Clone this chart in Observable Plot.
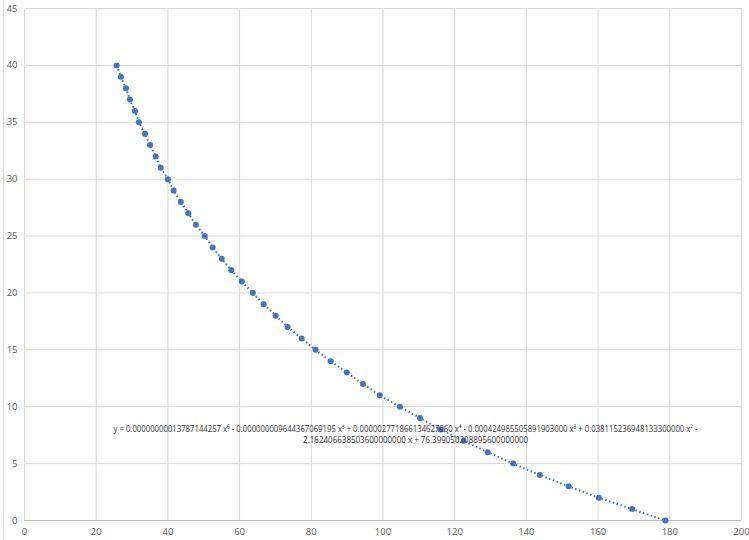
<!DOCTYPE html>
<html>
<head>
<meta charset="utf-8">
<script src="https://cdn.jsdelivr.net/npm/d3@7"></script>
<script src="https://cdn.jsdelivr.net/npm/@observablehq/plot@0.6"></script>
<style>
  html, body { margin: 0; padding: 0; background: #fff; }
  #chart { position: relative; width: 749px; height: 540px; }
</style>
</head>
<body>
<div id="chart"></div>
<script>
const xValues = [25.7, 26.9, 28.3, 29.4, 30.8, 31.9, 33.6, 35.0, 36.6, 38.0,
                 40.0, 41.6, 43.6, 45.7, 47.8, 50.3, 52.5, 55.0, 57.7, 60.6,
                 63.7, 66.7, 70.1, 73.4, 77.3, 81.2, 85.4, 89.9, 94.4, 99.1,
                 104.7, 110.3, 116.0, 122.5, 129.2, 136.3, 143.7, 151.8, 160.2, 169.5, 178.8];
const yValues = [40, 39, 38, 37, 36, 35, 34, 33, 32, 31,
                 30, 29, 28, 27, 26, 25, 24, 23, 22, 21,
                 20, 19, 18, 17, 16, 15, 14, 13, 12, 11,
                 10, 9, 8, 7, 6, 5, 4, 3, 2, 1, 0];
const xTicks = [0, 20, 40, 60, 80, 100, 120, 140, 160, 180, 200];
const yTicks = [0, 5, 10, 15, 20, 25, 30, 35, 40, 45];
const equationLine1 = "y = 0.00000000013787144257 x⁶ - 0.000000009644367069195 x⁵ + 0.000002771866134627060 x⁴ - 0.000424985505891903000 x³ + 0.038115236948133300000 x² -";
const equationLine2 = "2.162406638503600000000 x + 76.399050208895600000000";

const data = xValues.map((x, i) => ({x, y: yValues[i]}));
const blue = "#4472C4";

const chart = Plot.plot({
  width: 749,
  height: 540,
  marginLeft: 24,
  marginRight: 8,
  marginTop: 8,
  marginBottom: 20,
  style: {fontFamily: "Open Sans, Liberation Sans, sans-serif", fontSize: "9.5px", color: "#595959", background: "#fff"},
  x: {domain: [0, 200]},
  y: {domain: [0, 45]},
  marks: [
    Plot.gridX(xTicks, {stroke: "#d9d9d9", strokeOpacity: 1}),
    Plot.gridY(yTicks, {stroke: "#d9d9d9", strokeOpacity: 1}),
    Plot.ruleY([0], {stroke: "#bfbfbf", strokeWidth: 1}),
    Plot.axisX(xTicks, {tickSize: 0, tickPadding: 8, label: null, fill: "#595959"}),
    Plot.axisY(yTicks, {tickSize: 0, tickPadding: 7, label: null, fill: "#595959"}),
    Plot.line(data, {x: "x", y: "y", stroke: blue, strokeWidth: 2, strokeDasharray: "1.5 2.5", strokeLinecap: "butt"}),
    Plot.dot(data, {x: "x", y: "y", r: 3, fill: blue, stroke: null}),
    Plot.text([equationLine1], {x: 106.3, y: 8.0, text: d => d, fontSize: 9, fill: "#333333", textAnchor: "middle", className: "eq1"}),
    Plot.text([equationLine2], {x: 109.1, y: 7.04, text: d => d, fontSize: 9, fill: "#333333", textAnchor: "middle", className: "eq2"})
  ]
});

document.getElementById("chart").appendChild(chart);

// Fit equation line widths to the reference
d3.select(chart).selectAll(".eq1 text").attr("textLength", 584).attr("lengthAdjust", "spacingAndGlyphs");
d3.select(chart).selectAll(".eq2 text").attr("textLength", 225).attr("lengthAdjust", "spacingAndGlyphs");

// Chart-area border at the left edge
d3.select(chart).append("line")
  .attr("x1", 3.5).attr("x2", 3.5).attr("y1", 0).attr("y2", 540)
  .attr("stroke", "#d9d9d9");
</script>
</body>
</html>
